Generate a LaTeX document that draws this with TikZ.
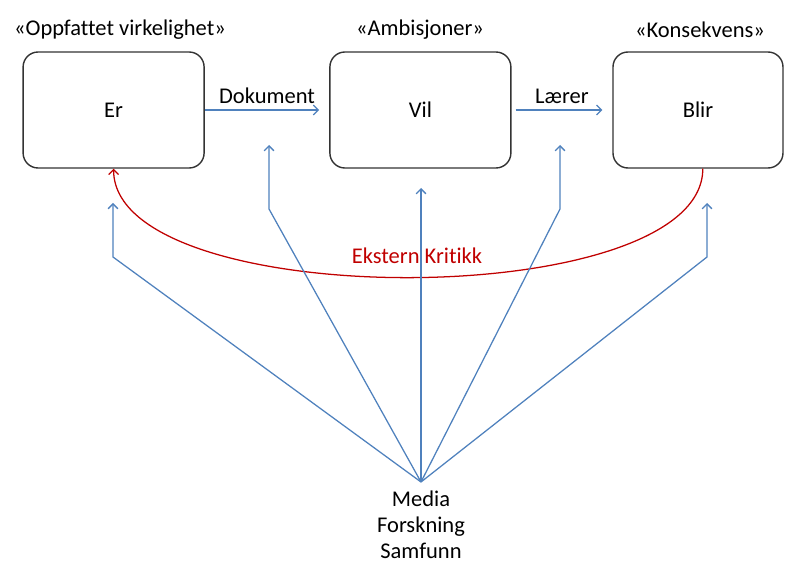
\documentclass[tikz,border=0pt]{standalone}
\usepackage{fontspec}
\setmainfont{Carlito}[Ligatures=NoCommon]
\usetikzlibrary{arrows.meta}
\definecolor{linjeblaa}{RGB}{79,129,189}
\definecolor{kritikkrod}{RGB}{192,0,0}
\tikzset{
  kasse/.style={draw=black!80, line width=1pt, rounded corners=0.375cm, minimum width=4.525cm, minimum height=2.9cm},
  pil/.style={draw=linjeblaa, line width=0.9pt, -{Straight Barb[length=3.5pt,width=7pt]}},
  krit/.style={draw=kritikkrod, line width=0.9pt, -{Straight Barb[length=3.5pt,width=7pt]}},
}
\begin{document}
\begin{tikzpicture}[font=\fontsize{16}{18.4}\selectfont]
\useasboundingbox (0,0) rectangle (19.675,14.075);
\node at (2.84,11.325) [kasse] (er) {Er};
\node at (10.51,11.325) [kasse] (vil) {Vil};
\node at (17.45,11.325) [kasse, minimum width=4.25cm] (blir) {Blir};
\node at (3.0,13.325) (t1) {«Oppfattet virkelighet»};
\node at (10.5,13.325) (t2) {«Ambisjoner»};
\node at (17.5,13.325) (t3) {«Konsekvens»};
\draw[pil, shorten >=0.25cm] (er) -- node[midway, above=1pt, text=black] {Dokument} (vil);
\draw[pil, shorten <=0.1cm, shorten >=0.25cm] (vil) -- node[midway, above=1pt, text=black] {Lærer} (blir);
\draw[krit] ([xshift=0.12cm]blir.south) .. controls +(0,-3.625) and +(0,-3.625) .. (er.south);
\node at (10.425,7.675) [text=kritikkrod] (kritikk) {Ekstern Kritikk};
\coordinate (kilde) at (10.525,2.025);
\node at (10.525,0.96) [align=center, inner sep=1pt] (media) {Media\\Forskning\\Samfunn};
\coordinate (a1) at (2.825,7.65); \coordinate (b1) at (2.825,9.0);
\coordinate (a2) at (6.725,8.85); \coordinate (b2) at (6.725,10.45);
\coordinate (b3) at (10.525,9.375);
\coordinate (a4) at (14.0,8.85); \coordinate (b4) at (14.0,10.45);
\coordinate (a5) at (17.675,7.65); \coordinate (b5) at (17.675,9.0);
\draw[pil] (kilde) -- (a1) -- (b1);
\draw[pil] (kilde) -- (a2) -- (b2);
\draw[pil] (kilde) -- (b3);
\draw[pil] (kilde) -- (a4) -- (b4);
\draw[pil] (kilde) -- (a5) -- (b5);
\end{tikzpicture}
\end{document}
